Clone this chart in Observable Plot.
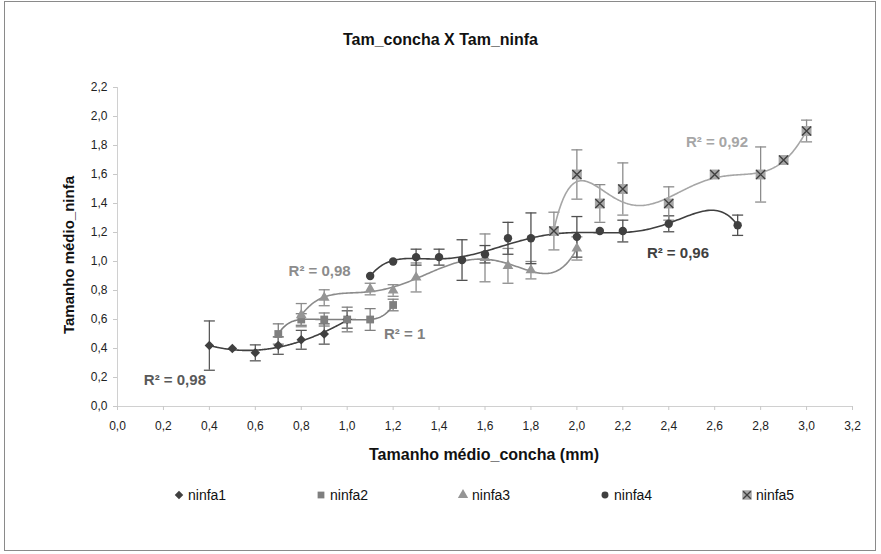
<!DOCTYPE html>
<html>
<head>
<meta charset="utf-8">
<script src="https://cdn.jsdelivr.net/npm/d3@7"></script>
<script src="https://cdn.jsdelivr.net/npm/@observablehq/plot@0.6"></script>
<style>
  body { margin: 0; background: #fff; font-family: "Liberation Sans", Arial, sans-serif; }
  #page { position: relative; width: 881px; height: 554px; overflow: hidden; background: #fff; }
  #frame { position: absolute; left: 4px; top: 1px; width: 872px; height: 550px; border: 1px solid #8a8a8a; box-sizing: border-box; }
  #title { position: absolute; left: 0; top: 31px; width: 881px; text-align: center; line-height: 18px;
           font-family: "Liberation Sans Narrow", "Liberation Sans", Arial, sans-serif; font-weight: bold; font-size: 16px; color: #111; }
  #chart { position: absolute; left: 0; top: 0; }
  #ylabel { position: absolute; left: 68px; top: 255px; transform: translate(-50%, -50%) rotate(-90deg);
            white-space: nowrap; font-weight: bold; font-size: 15px; color: #111; }
  #xlabel { position: absolute; left: 484px; top: 455px; transform: translate(-50%, -50%);
            white-space: nowrap; font-weight: bold; font-size: 16px; color: #111; }
  #legend { position: absolute; left: 173px; top: 486px; display: flex; font-size: 14px; color: #111; }
  .item { width: 142px; display: flex; align-items: center; height: 18px; }
  .item svg { margin-right: 3px; }
</style>
</head>
<body>
<div id="page">
  <div id="frame"></div>
  <div id="title">Tam_concha X Tam_ninfa</div>
  <div id="chart"></div>
  <div id="ylabel">Tamanho médio_ninfa</div>
  <div id="xlabel">Tamanho médio_concha (mm)</div>
  <div id="legend"></div>
</div>
<script>
// ---------- data ----------
const seriesNames = ["ninfa1", "ninfa2", "ninfa3", "ninfa4", "ninfa5"];

const ninfa1X   = [0.4, 0.5, 0.6, 0.7, 0.8, 0.9, 1.0];
const ninfa1Y   = [0.42, 0.40, 0.37, 0.42, 0.46, 0.50, 0.60];
const ninfa1Err = [0.17, 0, 0.055, 0.06, 0.065, 0.07, 0.06];

const ninfa2X   = [0.7, 0.8, 0.9, 1.0, 1.1, 1.2];
const ninfa2Y   = [0.50, 0.60, 0.60, 0.60, 0.60, 0.70];
const ninfa2Err = [0.07, 0.04, 0.045, 0.085, 0.075, 0.04];

const ninfa3X   = [0.8, 0.9, 1.1, 1.2, 1.3, 1.6, 1.7, 1.8, 2.0];
const ninfa3Y   = [0.63, 0.75, 0.81, 0.80, 0.89, 1.025, 0.97, 0.94, 1.09];
const ninfa3Err = [0.08, 0.055, 0.04, 0.04, 0.1, 0.165, 0.12, 0.06, 0.08];

const ninfa4X   = [1.1, 1.2, 1.3, 1.4, 1.5, 1.6, 1.7, 1.8, 2.0, 2.1, 2.2, 2.4, 2.7];
const ninfa4Y   = [0.90, 1.00, 1.03, 1.03, 1.01, 1.05, 1.16, 1.16, 1.17, 1.21, 1.21, 1.26, 1.25];
const ninfa4Err = [0, 0, 0.055, 0.055, 0.14, 0.06, 0.11, 0.175, 0.14, 0, 0.075, 0.055, 0.07];

const ninfa5X   = [1.9, 2.0, 2.1, 2.2, 2.4, 2.6, 2.8, 2.9, 3.0];
const ninfa5Y   = [1.21, 1.60, 1.40, 1.50, 1.40, 1.60, 1.60, 1.70, 1.90];
const ninfa5Err = [0.13, 0.17, 0.13, 0.18, 0.115, 0, 0.19, 0, 0.075];

const r2Texts    = ["R² = 0,98", "R² = 1", "R² = 0,98", "R² = 0,96", "R² = 0,92"];
const trendOrder = [3, 5, 6, 6, 6];

const xTicks = [0, 0.2, 0.4, 0.6, 0.8, 1.0, 1.2, 1.4, 1.6, 1.8, 2.0, 2.2, 2.4, 2.6, 2.8, 3.0, 3.2];
const yTicks = [0, 0.2, 0.4, 0.6, 0.8, 1.0, 1.2, 1.4, 1.6, 1.8, 2.0, 2.2];

// ---------- presentation ----------
const styles = {
  ninfa1: {color: "#404040", symbol: "diamond2", r: 4.3, err: "#595959", line: "#404040"},
  ninfa2: {color: "#7f7f7f", symbol: "square",   r: 4.4, err: "#7f7f7f", line: "#7f7f7f"},
  ninfa3: {color: "#959595", symbol: "triangle", r: 4.0, err: "#8c8c8c", line: "#8c8c8c"},
  ninfa4: {color: "#404040", symbol: "circle",   r: 4.2, err: "#505050", line: "#404040"},
  ninfa5: {color: "#a6a6a6", symbol: "square",   r: 5.6, err: "#8c8c8c", line: "#a6a6a6"}
};
// annotation anchor positions for the R² labels (data units)
const r2Pos = [[0.25, 0.18], [1.25, 0.50], [0.88, 0.93], [2.44, 1.06], [2.61, 1.82]];
const r2Colors = ["#595959", "#7f7f7f", "#8c8c8c", "#404040", "#a6a6a6"];

const raw = [
  [ninfa1X, ninfa1Y, ninfa1Err],
  [ninfa2X, ninfa2Y, ninfa2Err],
  [ninfa3X, ninfa3Y, ninfa3Err],
  [ninfa4X, ninfa4Y, ninfa4Err],
  [ninfa5X, ninfa5Y, ninfa5Err]
];

// polynomial least-squares trendline (as in a spreadsheet "polynomial" trendline)
function polyfit(xs, ys, deg) {
  const mx = d3.mean(xs), sx = d3.deviation(xs) || 1;
  const n = deg + 1;
  const A = Array.from({length: n}, () => new Array(n).fill(0));
  const b = new Array(n).fill(0);
  xs.forEach((x, k) => {
    const t = (x - mx) / sx;
    const p = d3.range(n).map(i => Math.pow(t, i));
    for (let i = 0; i < n; i++) {
      b[i] += p[i] * ys[k];
      for (let j = 0; j < n; j++) A[i][j] += p[i] * p[j];
    }
  });
  // Gaussian elimination
  for (let c = 0; c < n; c++) {
    let piv = c;
    for (let r = c + 1; r < n; r++) if (Math.abs(A[r][c]) > Math.abs(A[piv][c])) piv = r;
    [A[c], A[piv]] = [A[piv], A[c]]; [b[c], b[piv]] = [b[piv], b[c]];
    for (let r = c + 1; r < n; r++) {
      const f = A[r][c] / A[c][c];
      for (let j = c; j < n; j++) A[r][j] -= f * A[c][j];
      b[r] -= f * b[c];
    }
  }
  const coef = new Array(n).fill(0);
  for (let i = n - 1; i >= 0; i--) {
    let s = b[i];
    for (let j = i + 1; j < n; j++) s -= A[i][j] * coef[j];
    coef[i] = s / A[i][i];
  }
  return x => { const t = (x - mx) / sx; return coef.reduce((s, c, i) => s + c * Math.pow(t, i), 0); };
}

const capSymbol = {
  draw(ctx, size) { const w = Math.sqrt(size / Math.PI); ctx.moveTo(-w, 0); ctx.lineTo(w, 0); }
};

const fmt = d => d.toFixed(1).replace(".", ",");

const marks = [
  Plot.ruleY([0], {stroke: "#d0d0d0"}),
  Plot.ruleX([0], {stroke: "#d0d0d0"}),
  Plot.axisX({ticks: xTicks, tickFormat: fmt, tickSize: 4, tickPadding: 11, stroke: "#c8c8c8", fill: "#222", label: null, fontSize: 12}),
  Plot.axisY({ticks: yTicks, tickFormat: fmt, tickSize: 4, tickPadding: 6, stroke: "#c8c8c8", fill: "#222", label: null, fontSize: 12})
];

raw.forEach(([xs, ys, es], i) => {
  const name = seriesNames[i];
  const st = styles[name];
  const pts = xs.map((x, j) => ({x, y: ys[j], e: es[j]}));
  const errs = pts.filter(d => d.e > 0);
  // error bars
  marks.push(Plot.ruleX(errs, {x: "x", y1: d => d.y - d.e, y2: d => d.y + d.e, stroke: st.err, strokeWidth: 1.3}));
  marks.push(Plot.dot(errs, {x: "x", y: d => d.y + d.e, symbol: capSymbol, r: 5.5, stroke: st.err, fill: "none", strokeWidth: 1.3}));
  marks.push(Plot.dot(errs, {x: "x", y: d => d.y - d.e, symbol: capSymbol, r: 5.5, stroke: st.err, fill: "none", strokeWidth: 1.3}));
});

raw.forEach(([xs, ys], i) => {
  const st = styles[seriesNames[i]];
  const f = polyfit(xs, ys, trendOrder[i]);
  const x0 = d3.min(xs), x1 = d3.max(xs), n = 200;
  const curve = d3.range(n + 1).map(k => { const x = x0 + (x1 - x0) * k / n; return {x, y: f(x)}; });
  marks.push(Plot.line(curve, {x: "x", y: "y", stroke: st.line, strokeWidth: 1.6}));
});

raw.forEach(([xs, ys], i) => {
  const name = seriesNames[i];
  const st = styles[name];
  const pts = xs.map((x, j) => ({x, y: ys[j]}));
  marks.push(Plot.dot(pts, {x: "x", y: "y", symbol: st.symbol, r: st.r, fill: st.color, stroke: "none"}));
  if (name === "ninfa5") {
    marks.push(Plot.dot(pts, {x: "x", y: "y", symbol: "times", r: 4.2, stroke: "#404040", strokeWidth: 1.4, fill: "none"}));
  }
});

const annot = r2Texts.map((t, i) => ({text: t, x: r2Pos[i][0], y: r2Pos[i][1], color: r2Colors[i]}));
annot.forEach(a => marks.push(Plot.text([a], {x: "x", y: "y", text: "text", fill: a.color, fontWeight: "bold", fontSize: 15})));

const chart = Plot.plot({
  width: 881,
  height: 470,
  marginLeft: 117,
  marginRight: 29,
  marginTop: 87,
  marginBottom: 64,
  style: {fontFamily: "'Liberation Sans', Arial, sans-serif", fontSize: "12px", background: "transparent", color: "#222", overflow: "visible"},
  x: {domain: [0, 3.2]},
  y: {domain: [0, 2.2]},
  marks
});
document.getElementById("chart").appendChild(chart);

// legend
const legend = d3.select("#legend");
seriesNames.forEach(name => {
  const st = styles[name];
  const item = legend.append("div").attr("class", "item");
  const svg = item.append("svg").attr("width", 12).attr("height", 12).attr("viewBox", "-6 -6 12 12");
  const symMap = {diamond2: d3.symbolDiamond2, square: d3.symbolSquare, triangle: d3.symbolTriangle, circle: d3.symbolCircle};
  const size = name === "ninfa5" ? 90 : name === "ninfa4" ? 38 : 46;
  svg.append("path").attr("d", d3.symbol(symMap[st.symbol], size)()).attr("fill", st.color);
  if (name === "ninfa5") {
    svg.append("path").attr("d", d3.symbol(d3.symbolTimes, 40)()).attr("stroke", "#404040").attr("stroke-width", 1.3).attr("fill", "none");
  }
  item.append("span").text(name);
});
</script>
</body>
</html>
